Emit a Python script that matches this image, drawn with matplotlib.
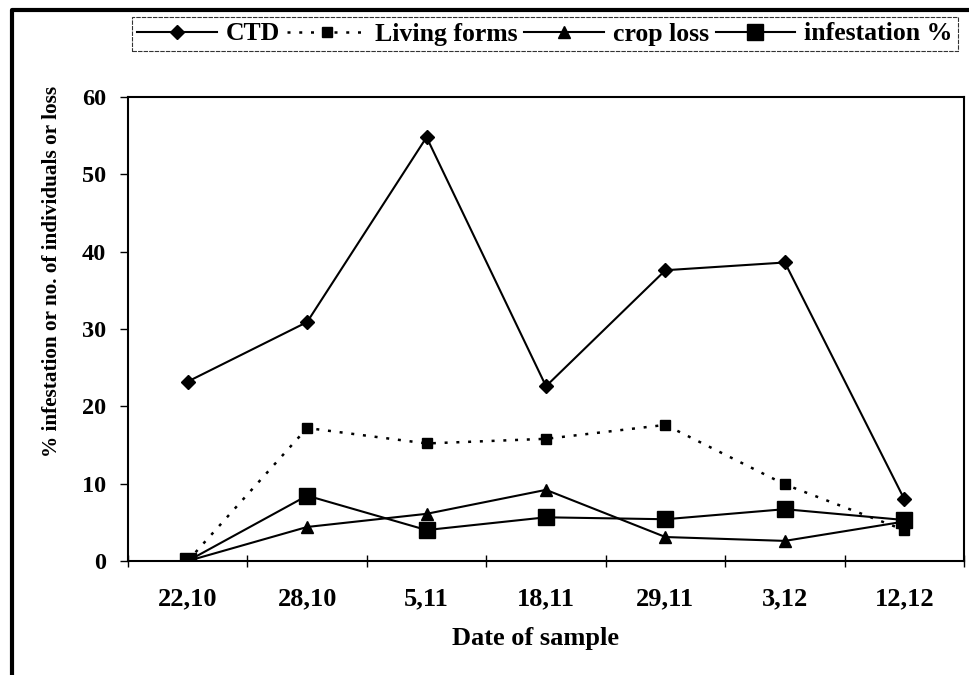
import matplotlib
matplotlib.use("Agg")
import matplotlib.pyplot as plt
from matplotlib.lines import Line2D

dates = ["22,10", "28,10", "5,11", "18,11", "29,11", "3,12", "12,12"]
ctd = [23.2, 30.9, 54.8, 22.6, 37.6, 38.6, 8.0]
living_forms = [0.0, 17.2, 15.2, 15.8, 17.6, 9.9, 4.0]
crop_loss = [0.0, 4.4, 6.1, 9.2, 3.1, 2.6, 5.1]
infestation = [0.0, 8.45, 4.0, 5.65, 5.4, 6.7, 5.3]
y_ticks = [0, 10, 20, 30, 40, 50, 60]

plt.rcParams['font.family'] = ['Liberation Serif', 'DejaVu Serif']
plt.rcParams['font.weight'] = 'bold'

fig = plt.figure(figsize=(9.69, 6.75), dpi=100)
ax = fig.add_axes([128/969, 1-561/675, 836/969, 464/675])

x = list(range(len(dates)))
l1, = ax.plot(x, ctd, color='black', lw=1.5, marker='D', ms=7.5, label='CTD')
l2, = ax.plot(x, living_forms, color='black', lw=1.8, ls=(0, (1.2, 3.5)), marker='s', ms=6.5, label='Living forms')
l3, = ax.plot(x, crop_loss, color='black', lw=1.5, marker='^', ms=9, label='crop loss')
l4, = ax.plot(x, infestation, color='black', lw=1.5, marker='s', ms=11, label='infestation %')

ax.set_xlim(-0.5, len(dates) - 0.5)
ax.set_ylim(0, 60)
ax.set_yticks(y_ticks)
ax.set_yticklabels([str(v) for v in y_ticks], fontsize=17.5, fontweight='bold')
ax.set_xticks([i + 0.5 for i in range(-1, len(dates))])
ax.set_xticklabels([])
ax.set_xticks(x, minor=True)
ax.set_xticklabels(dates, minor=True, fontsize=19, fontweight='bold')
ax.tick_params(axis='x', which='minor', length=0, pad=19)
ax.tick_params(axis='x', which='major', direction='inout', length=8, width=1)
ax.tick_params(axis='y', direction='out', length=6, width=1, pad=10)
for s in ax.spines.values():
    s.set_linewidth(1.5)

ax.set_xlabel('Date of sample', fontsize=19, fontweight='bold', va='top')
ax.xaxis.set_label_coords(0.487, -0.142)
ax.set_ylabel('% infestation or no. of individuals or loss', fontsize=15.3, fontweight='bold')
ax.yaxis.set_label_coords(-0.079, 0.625)

leg = fig.legend(handles=[l1, l2, l3, l4], loc='center', bbox_to_anchor=(545/969, 1-34/675),
                 ncol=4, frameon=True, fancybox=False, edgecolor='black',
                 handlelength=3.1, handletextpad=0.35, columnspacing=0.25, borderpad=0.2,
                 borderaxespad=0, prop={'weight': 'bold', 'size': 18.5})
leg.get_frame().set_linewidth(0.8)
leg.get_frame().set_linestyle((0, (4, 1)))

fig.add_artist(Line2D([12/969, 12/969, 1.0], [0.0, 1-10/675, 1-10/675],
                      transform=fig.transFigure, color='black', lw=3))

fig.savefig('out.png', dpi=100, facecolor='white')
